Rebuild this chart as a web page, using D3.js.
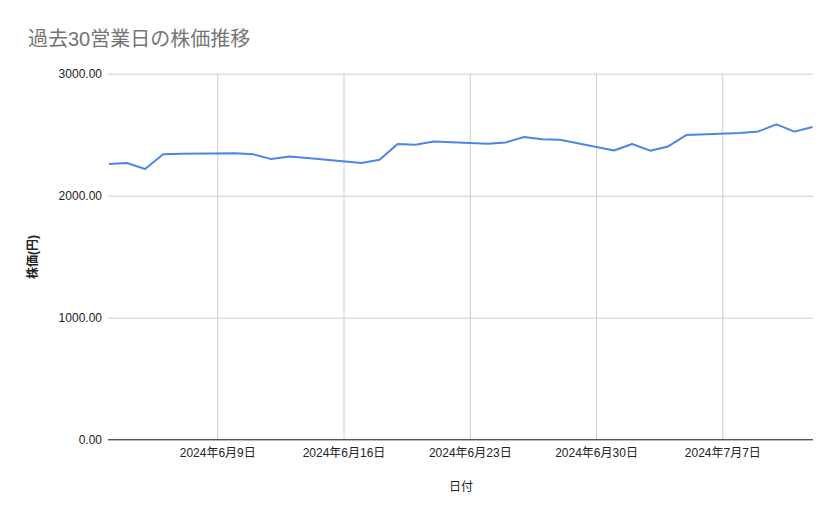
<!DOCTYPE html>
<html>
<head>
  <meta charset="utf-8">
  <title>過去30営業日の株価推移</title>
  <script src="https://d3js.org/d3.v7.min.js"></script>
  <style>
    body { margin: 0; background: #fff; }
    text { font-family: "Liberation Sans", Arial, "Noto Sans CJK JP", sans-serif; }
    .grid line { stroke: #cccccc; stroke-width: 1; }
    .grid .domain { stroke: none; }
  </style>
</head>
<body>
<div id="chart"></div>
<script>
// trading days (business days only)
const dates = [
  "2024-06-03", "2024-06-04", "2024-06-05", "2024-06-06", "2024-06-07",
  "2024-06-10", "2024-06-11", "2024-06-12", "2024-06-13", "2024-06-14",
  "2024-06-17", "2024-06-18", "2024-06-19", "2024-06-20", "2024-06-21",
  "2024-06-24", "2024-06-25", "2024-06-26", "2024-06-27", "2024-06-28",
  "2024-07-01", "2024-07-02", "2024-07-03", "2024-07-04", "2024-07-05",
  "2024-07-08", "2024-07-09", "2024-07-10", "2024-07-11", "2024-07-12"
];
const prices = [
  2260, 2268, 2219, 2339, 2344,
  2347, 2339, 2300, 2322, 2309,
  2268, 2295, 2424, 2418, 2445,
  2426, 2437, 2481, 2462, 2459,
  2371, 2424, 2369, 2404, 2497,
  2514, 2527, 2585, 2525, 2563
];
const xTickDates = ["2024-06-09", "2024-06-16", "2024-06-23", "2024-06-30", "2024-07-07"];
const yTicks = [0, 1000, 2000, 3000];

const width = 839, height = 519;
const parse = d3.timeParse("%Y-%m-%d");
const data = dates.map((d, i) => ({ date: parse(d), price: prices[i] }));

const svg = d3.select("#chart").append("svg")
  .attr("width", width)
  .attr("height", height);

const x = d3.scaleTime()
  .domain([parse(dates[0]), parse(dates[dates.length - 1])])
  .range([109, 812.5]);

const y = d3.scaleLinear()
  .domain([0, 3000])
  .range([439.7, 73.7]);

// horizontal gridlines
svg.append("g")
  .attr("class", "grid")
  .attr("transform", "translate(108,0)")
  .call(d3.axisLeft(y).tickValues(yTicks).tickSize(-705).tickFormat(""));

// vertical gridlines
svg.append("g")
  .attr("class", "grid")
  .attr("transform", "translate(0,73.7)")
  .call(d3.axisBottom(x).tickValues(xTickDates.map(parse)).tickSize(366).tickFormat(""));

// y labels
const yAxis = svg.append("g")
  .attr("transform", "translate(108,0)")
  .call(d3.axisLeft(y).tickValues(yTicks).tickSize(0).tickPadding(6).tickFormat(d3.format(".2f")));
yAxis.select(".domain").remove();
yAxis.selectAll("text").attr("font-size", 12).attr("fill", "#222");

// zero baseline
svg.append("line")
  .attr("x1", 108).attr("x2", 813)
  .attr("y1", y(0)).attr("y2", y(0))
  .attr("stroke", "#333").attr("stroke-width", 1);

// x labels
const xAxis = svg.append("g")
  .attr("transform", `translate(0,${y(0)})`)
  .call(d3.axisBottom(x).tickValues(xTickDates.map(parse)).tickSize(0).tickPadding(9)
    .tickFormat(d3.timeFormat("%Y年%-m月%-d日")));
xAxis.select(".domain").remove();
xAxis.selectAll("text").attr("font-size", 12).attr("fill", "#222");

// line
svg.append("path")
  .datum(data)
  .attr("fill", "none")
  .attr("stroke", "#4a86e8")
  .attr("stroke-width", 2)
  .attr("stroke-linejoin", "round")
  .attr("d", d3.line().x(d => x(d.date)).y(d => y(d.price)));

// title
svg.append("text")
  .attr("x", 28).attr("y", 46)
  .attr("font-size", 20)
  .attr("fill", "#757575")
  .text("過去30営業日の株価推移");

// axis titles
svg.append("text")
  .attr("x", 461).attr("y", 491)
  .attr("text-anchor", "middle")
  .attr("font-size", 12)
  .attr("fill", "#222")
  .text("日付");

svg.append("text")
  .attr("transform", "translate(37,257) rotate(-90)")
  .attr("text-anchor", "middle")
  .attr("font-size", 12)
  .attr("font-weight", "bold")
  .attr("fill", "#222")
  .text("株価(円)");
</script>
</body>
</html>
